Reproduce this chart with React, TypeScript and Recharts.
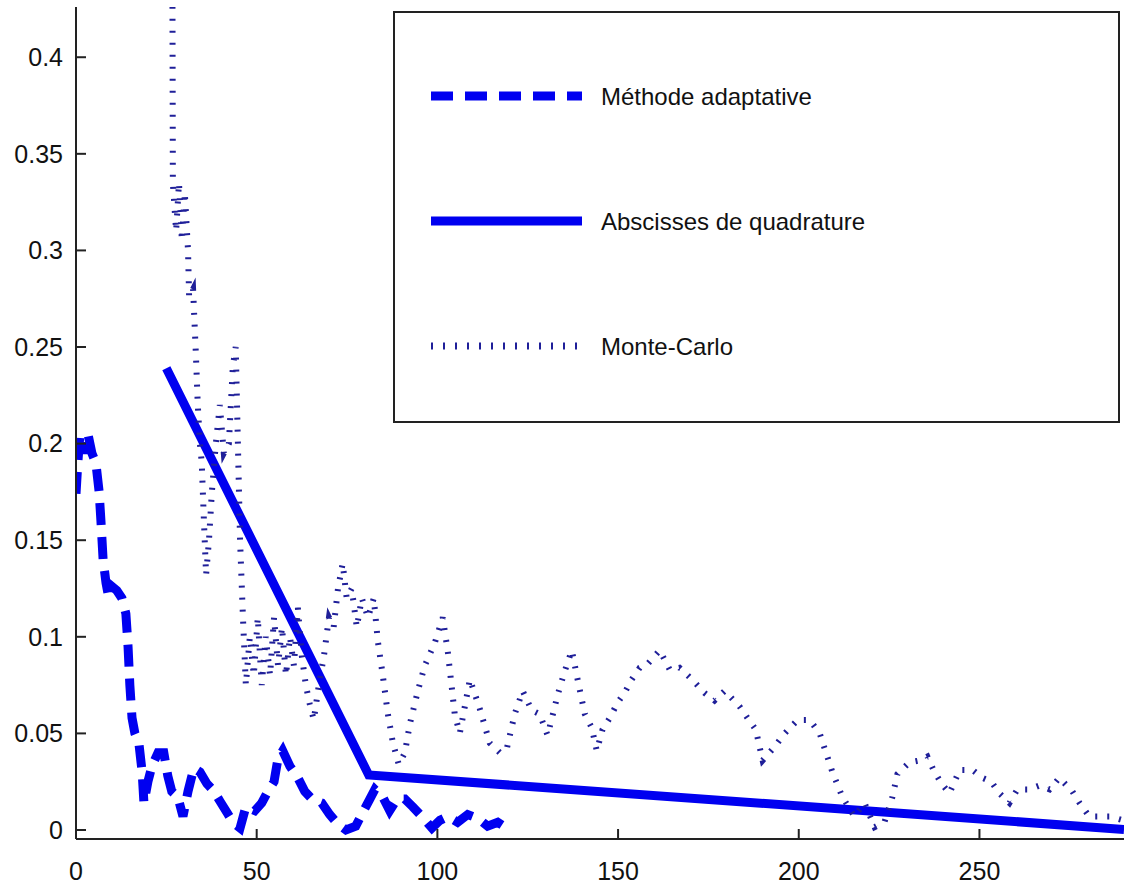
import { Legend, Line, LineChart, XAxis, YAxis } from 'recharts';

// Convergence comparison: adaptive method vs quadrature abscissae vs Monte-Carlo.
// Values.

const xTicks = [0, 50, 100, 150, 200, 250];
const yTicks = [0, 0.05, 0.1, 0.15, 0.2, 0.25, 0.3, 0.35, 0.4];

// Méthode adaptative: [x, y]
const adaptive: Array<[number, number]> = [
  [0, 0.174], [0.5, 0.19], [1.1, 0.205], [2.2, 0.195], [3.3, 0.205], [4.4, 0.195],
  [5.5, 0.19], [6.4, 0.175], [6.9, 0.16], [7.5, 0.14], [8.3, 0.128], [9.1, 0.12],
  [10, 0.126], [11.3, 0.124], [12.7, 0.12], [13.8, 0.112], [14.4, 0.095], [14.9, 0.075],
  [15.5, 0.058], [16.3, 0.05], [17.4, 0.045], [18.3, 0.03], [18.8, 0.014], [19.9, 0.025],
  [21, 0.033], [22.7, 0.04], [24.3, 0.04], [25.4, 0.028], [26.5, 0.02], [28.2, 0.017],
  [29.6, 0.007], [31, 0.02], [32.6, 0.032], [34.3, 0.03], [36.2, 0.024], [38.2, 0.02],
  [39.8, 0.015], [41.8, 0.009], [43.4, 0.004], [45.4, 0.001], [47, 0.012], [49.5, 0.01],
  [51.4, 0.014], [53.1, 0.02], [54.8, 0.025], [55.9, 0.037], [57.2, 0.041], [59.2, 0.033],
  [61.4, 0.027], [63.3, 0.02], [65.3, 0.016], [68, 0.014], [70.2, 0.008], [72.5, 0.003],
  [74.7, 0.0], [77.4, 0.002], [79.6, 0.01], [81.3, 0.016], [82.7, 0.021], [84.9, 0.017],
  [86.8, 0.01], [88.8, 0.016], [91, 0.016], [93.2, 0.012], [95.7, 0.007], [98.5, 0.001],
  [100.7, 0.005], [102.9, 0.007], [105.6, 0.004], [108.4, 0.008], [111.2, 0.006],
  [113.9, 0.002], [116.7, 0.004], [120, 0.0],
];

// Abscisses de quadrature
const quadrature: Array<[number, number]> = [
  [25, 0.239], [81, 0.0285], [290, 0.0003],
];

// Monte-Carlo (starts off the top of the axes)
const monteCarlo: Array<[number, number]> = [
  [26.5, 0.6], [26.8, 0.335], [27.7, 0.31], [28.5, 0.335], [29.3, 0.305], [30.1, 0.33],
  [31.0, 0.3], [31.3, 0.276], [32.4, 0.28], [33.2, 0.245], [33.7, 0.22], [34.3, 0.2],
  [34.8, 0.19], [35.4, 0.16], [36.0, 0.132], [36.8, 0.15], [37.6, 0.175], [38.7, 0.2],
  [39.8, 0.22], [40.9, 0.195], [42.3, 0.2], [43.4, 0.24], [44.2, 0.25], [44.8, 0.2],
  [45.4, 0.15], [46.2, 0.11], [47.0, 0.075], [48.1, 0.1], [49.2, 0.08], [50.3, 0.11],
  [51.4, 0.075], [52.5, 0.1], [53.7, 0.08], [54.8, 0.11], [55.9, 0.085], [57.0, 0.105],
  [58.1, 0.08], [59.2, 0.1], [60.3, 0.085], [61.4, 0.115], [62.5, 0.09], [63.6, 0.075],
  [64.7, 0.065], [65.8, 0.057], [67.2, 0.075], [68.6, 0.09], [70.0, 0.11], [71.3, 0.105],
  [72.5, 0.125], [73.8, 0.138], [74.9, 0.12], [76.3, 0.125], [77.7, 0.105], [79.1, 0.12],
  [80.8, 0.11], [82.4, 0.12], [83.5, 0.098], [84.9, 0.08], [86.3, 0.06], [87.7, 0.045],
  [89.3, 0.034], [91.0, 0.04], [92.4, 0.055], [94.6, 0.072], [96.5, 0.085], [99.3, 0.097],
  [101.5, 0.11], [102.9, 0.092], [104.8, 0.06], [106.2, 0.05], [109.0, 0.078], [111.7, 0.063],
  [114.5, 0.045], [117.3, 0.04], [119.2, 0.042], [121.4, 0.06], [123.6, 0.072], [126.1, 0.062],
  [128.3, 0.06], [130.5, 0.049], [133.3, 0.07], [135.2, 0.082], [137.2, 0.093], [138.8, 0.078],
  [140.8, 0.06], [142.7, 0.053], [144.1, 0.041], [145.7, 0.052], [147.7, 0.058], [149.9, 0.066],
  [151.8, 0.071], [153.8, 0.078], [156.0, 0.084], [158.2, 0.086], [161.5, 0.093], [164.3, 0.083],
  [167.0, 0.084], [170.4, 0.078], [173.9, 0.071], [176.7, 0.067], [179.5, 0.072], [183.6, 0.064],
  [185.8, 0.058], [188.1, 0.052], [190.0, 0.036], [193.3, 0.043], [196.1, 0.05], [199.7, 0.057],
  [203.0, 0.057], [205.8, 0.05], [209.3, 0.03], [212.1, 0.017], [215.4, 0.007], [218.2, 0.014],
  [221.0, 0.0015], [223.7, 0.004], [225.9, 0.017], [227.3, 0.029], [230.6, 0.035], [233.4, 0.036],
  [235.6, 0.038], [237.3, 0.031], [239.5, 0.024], [241.7, 0.019], [244.5, 0.031], [248.1, 0.031],
  [250.8, 0.027], [253.3, 0.025], [255.5, 0.019], [258.3, 0.014], [260.5, 0.021], [263.8, 0.021],
  [266.6, 0.023], [269.4, 0.021], [272.1, 0.027], [275.7, 0.02], [277.7, 0.014], [280.4, 0.007],
  [286.0, 0.007], [289.8, 0.005],
];

const toRows = (pts: Array<[number, number]>) => pts.map(([x, y]) => ({ x, y }));

const BLUE = '#0000f0';
const MC_BLUE = '#1f1f99';
const FONT = '"Liberation Sans", Arial, Helvetica, sans-serif';

const tickStyle = { fontSize: 25, fill: '#111', fontFamily: FONT };
const axisStroke = { stroke: '#222', strokeWidth: 2 };

// Legend box drawn the MATLAB way: framed, line sample then label.
function LegendBox() {
  const rows = [
    { label: 'Méthode adaptative', stroke: BLUE, width: 9, dash: '22 12' },
    { label: 'Abscisses de quadrature', stroke: BLUE, width: 9, dash: undefined },
    { label: 'Monte-Carlo', stroke: MC_BLUE, width: 7, dash: '2 10' },
  ];
  return (
    <svg width={728} height={413} style={{ display: 'block' }}>
      <rect x={1} y={1} width={725} height={410} fill="#fff" stroke="#222" strokeWidth={2} />
      {rows.map((r, i) => {
        const cy = 85 + i * 125;
        return (
          <g key={r.label}>
            <line x1={38} x2={189} y1={cy} y2={cy} stroke={r.stroke} strokeWidth={r.width} strokeDasharray={r.dash} />
            <text x={208} y={cy + 9} fontSize={24} fill="#111" fontFamily={FONT}>
              {r.label}
            </text>
          </g>
        );
      })}
    </svg>
  );
}

export default function App() {
  return (
    <div style={{ position: 'absolute', left: 0, top: 0, width: 1124, height: 886, background: '#fff' }}>
      <LineChart width={1124} height={886} margin={{ top: 7, right: 0, bottom: 0, left: 0 }}>
        <XAxis
          type="number"
          dataKey="x"
          domain={[0, 290]}
          ticks={xTicks}
          allowDataOverflow
          height={47}
          tick={tickStyle}
          tickSize={-10}
          tickMargin={33}
          axisLine={axisStroke}
          tickLine={axisStroke}
        />
        <YAxis
          type="number"
          dataKey="y"
          domain={[-0.00466, 0.426]}
          ticks={yTicks}
          allowDataOverflow
          width={76}
          tick={tickStyle}
          tickSize={-10}
          tickMargin={23}
          tickFormatter={(v: number) => String(v)}
          axisLine={axisStroke}
          tickLine={axisStroke}
        />
        <Legend
          layout="vertical"
          align="center"
          verticalAlign="middle"
          wrapperStyle={{ position: 'absolute', left: 393, top: 11, width: 728, height: 413 }}
          content={() => <LegendBox />}
        />
        <Line
          data={toRows(adaptive)}
          dataKey="y"
          type="linear"
          stroke={BLUE}
          strokeWidth={9}
          strokeDasharray="22 12"
          dot={false}
          activeDot={false}
          isAnimationActive={false}
          name="Méthode adaptative"
        />
        <Line
          data={toRows(quadrature)}
          dataKey="y"
          type="linear"
          stroke={BLUE}
          strokeWidth={9}
          dot={false}
          activeDot={false}
          isAnimationActive={false}
          name="Abscisses de quadrature"
        />
        <Line
          data={toRows(monteCarlo)}
          dataKey="y"
          type="linear"
          stroke={MC_BLUE}
          strokeWidth={6}
          strokeDasharray="2 10"
          dot={false}
          activeDot={false}
          isAnimationActive={false}
          name="Monte-Carlo"
        />
      </LineChart>
    </div>
  );
}
